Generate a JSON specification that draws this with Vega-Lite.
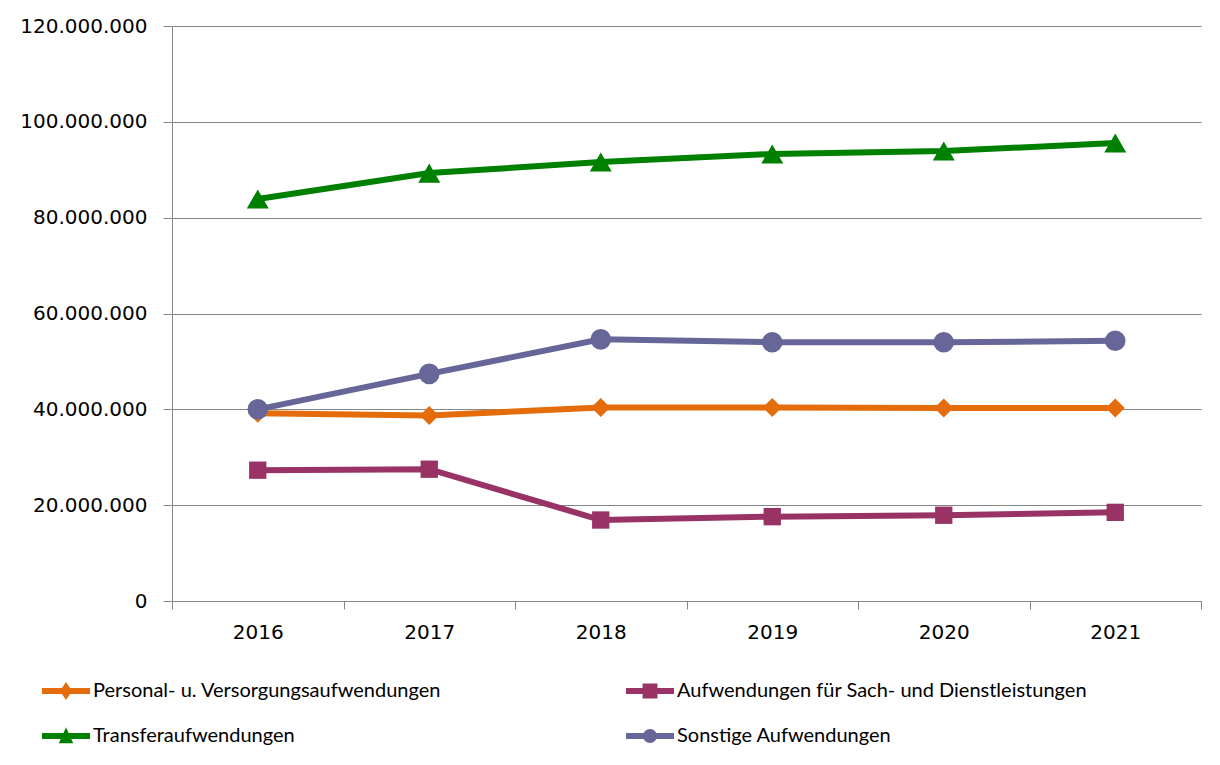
{
  "$schema": "https://vega.github.io/schema/vega-lite/v6.json",
  "width": 1029,
  "height": 575,
  "autosize": {"type": "none"},
  "padding": {"left": 172, "top": 26, "right": 19, "bottom": 164},
  "background": "#ffffff",
  "config": {
    "locale": {"number": {"decimal": ",", "thousands": ".", "grouping": [3], "currency": ["", " €"]}},
    "view": {"stroke": null},
    "font": "Lato"
  },
  "data": {
    "values": [
      {"year": "2016", "series": "Personal- u. Versorgungsaufwendungen", "value": 39200000},
      {"year": "2017", "series": "Personal- u. Versorgungsaufwendungen", "value": 38700000},
      {"year": "2018", "series": "Personal- u. Versorgungsaufwendungen", "value": 40400000},
      {"year": "2019", "series": "Personal- u. Versorgungsaufwendungen", "value": 40400000},
      {"year": "2020", "series": "Personal- u. Versorgungsaufwendungen", "value": 40300000},
      {"year": "2021", "series": "Personal- u. Versorgungsaufwendungen", "value": 40300000},
      {"year": "2016", "series": "Aufwendungen für Sach- und Dienstleistungen", "value": 27300000},
      {"year": "2017", "series": "Aufwendungen für Sach- und Dienstleistungen", "value": 27500000},
      {"year": "2018", "series": "Aufwendungen für Sach- und Dienstleistungen", "value": 16900000},
      {"year": "2019", "series": "Aufwendungen für Sach- und Dienstleistungen", "value": 17600000},
      {"year": "2020", "series": "Aufwendungen für Sach- und Dienstleistungen", "value": 17900000},
      {"year": "2021", "series": "Aufwendungen für Sach- und Dienstleistungen", "value": 18500000},
      {"year": "2016", "series": "Transferaufwendungen", "value": 83900000},
      {"year": "2017", "series": "Transferaufwendungen", "value": 89300000},
      {"year": "2018", "series": "Transferaufwendungen", "value": 91600000},
      {"year": "2019", "series": "Transferaufwendungen", "value": 93300000},
      {"year": "2020", "series": "Transferaufwendungen", "value": 93900000},
      {"year": "2021", "series": "Transferaufwendungen", "value": 95600000},
      {"year": "2016", "series": "Sonstige Aufwendungen", "value": 40000000},
      {"year": "2017", "series": "Sonstige Aufwendungen", "value": 47400000},
      {"year": "2018", "series": "Sonstige Aufwendungen", "value": 54600000},
      {"year": "2019", "series": "Sonstige Aufwendungen", "value": 54000000},
      {"year": "2020", "series": "Sonstige Aufwendungen", "value": 54000000},
      {"year": "2021", "series": "Sonstige Aufwendungen", "value": 54300000}
    ]
  },
  "encoding": {
    "x": {
      "field": "year",
      "type": "ordinal",
      "bandPosition": 0.5,
      "scale": {"type": "band", "paddingInner": 0, "paddingOuter": 0},
      "axis": {
        "title": null,
        "tickBand": "extent",
        "labelAngle": 0,
        "grid": false,
        "domainColor": "#868686",
        "tickColor": "#868686",
        "tickSize": 8,
        "labelFont": "DejaVu Sans",
        "labelFontSize": 20,
        "labelColor": "#000000",
        "labelPadding": 13
      }
    },
    "y": {
      "field": "value",
      "type": "quantitative",
      "scale": {"domain": [0, 120000000], "nice": false, "zero": true},
      "axis": {
        "title": null,
        "values": [0, 20000000, 40000000, 60000000, 80000000, 100000000, 120000000],
        "format": ",d",
        "grid": true,
        "gridColor": "#868686",
        "domainColor": "#868686",
        "tickColor": "#868686",
        "tickSize": 9,
        "labelPadding": 16,
        "labelFont": "DejaVu Sans",
        "labelFontSize": 20,
        "labelColor": "#000000",
        "labelOverlap": false
      }
    },
    "color": {
      "field": "series",
      "type": "nominal",
      "scale": {
        "domain": ["Personal- u. Versorgungsaufwendungen", "Aufwendungen für Sach- und Dienstleistungen", "Transferaufwendungen", "Sonstige Aufwendungen"],
        "range": ["#E46C0A", "#993366", "#008000", "#666699"]
      },
      "legend": {
        "orient": "none",
        "legendX": -130,
        "legendY": 641,
        "direction": "horizontal",
        "columns": 2,
        "columnPadding": 184,
        "rowPadding": 11,
        "title": null,
        "symbolType": "M-1,-0.13H1V0.13H-1Z",
        "symbolSize": 2304,
        "symbolStrokeWidth": 0,
        "symbolOpacity": 1,
        "labelFont": "Lato",
        "labelFontSize": 20,
        "labelColor": "#000000",
        "labelOffset": 3,
        "labelLimit": 0,
        "encoding": {
          "symbols": {
            "shape": {"value": {"expr": "datum.value == 'Personal- u. Versorgungsaufwendungen' ? 'M-1,-0.13H1V0.13H-1Z M0,-0.37L0.25,0L0,0.37L-0.25,0Z' : datum.value == 'Transferaufwendungen' ? 'M-1,-0.13H1V0.13H-1Z M0,-0.36L0.3,0.3H-0.3Z' : datum.value == 'Sonstige Aufwendungen' ? 'M-1,-0.13H1V0.13H-1Z M-0.29,0A0.29,0.29,0,1,1,0.29,0A0.29,0.29,0,1,1,-0.29,0Z' : 'M-1,-0.13H1V0.13H-1Z M-0.31,-0.31H0.31V0.31H-0.31Z'"}},
            "fill": {"value": {"expr": "scale('color', datum.value)"}},
            "opacity": {"value": 1}
          }
        }
      }
    }
  },
  "layer": [
    {"mark": {"type": "line", "strokeWidth": 6}},
    {
      "mark": {"type": "point", "filled": true, "opacity": 1},
      "encoding": {
        "shape": {
          "field": "series",
          "type": "nominal",
          "scale": {
            "domain": ["Sonstige Aufwendungen", "Transferaufwendungen", "Aufwendungen für Sach- und Dienstleistungen", "Personal- u. Versorgungsaufwendungen"],
            "range": ["circle", "triangle-up", "square", "diamond"]
          },
          "legend": null
        },
        "size": {
          "field": "series",
          "type": "nominal",
          "scale": {
            "domain": ["Transferaufwendungen", "Sonstige Aufwendungen", "Personal- u. Versorgungsaufwendungen", "Aufwendungen für Sach- und Dienstleistungen"],
            "range": [484, 300, 360, 400]
          },
          "legend": null
        }
      }
    }
  ]
}
